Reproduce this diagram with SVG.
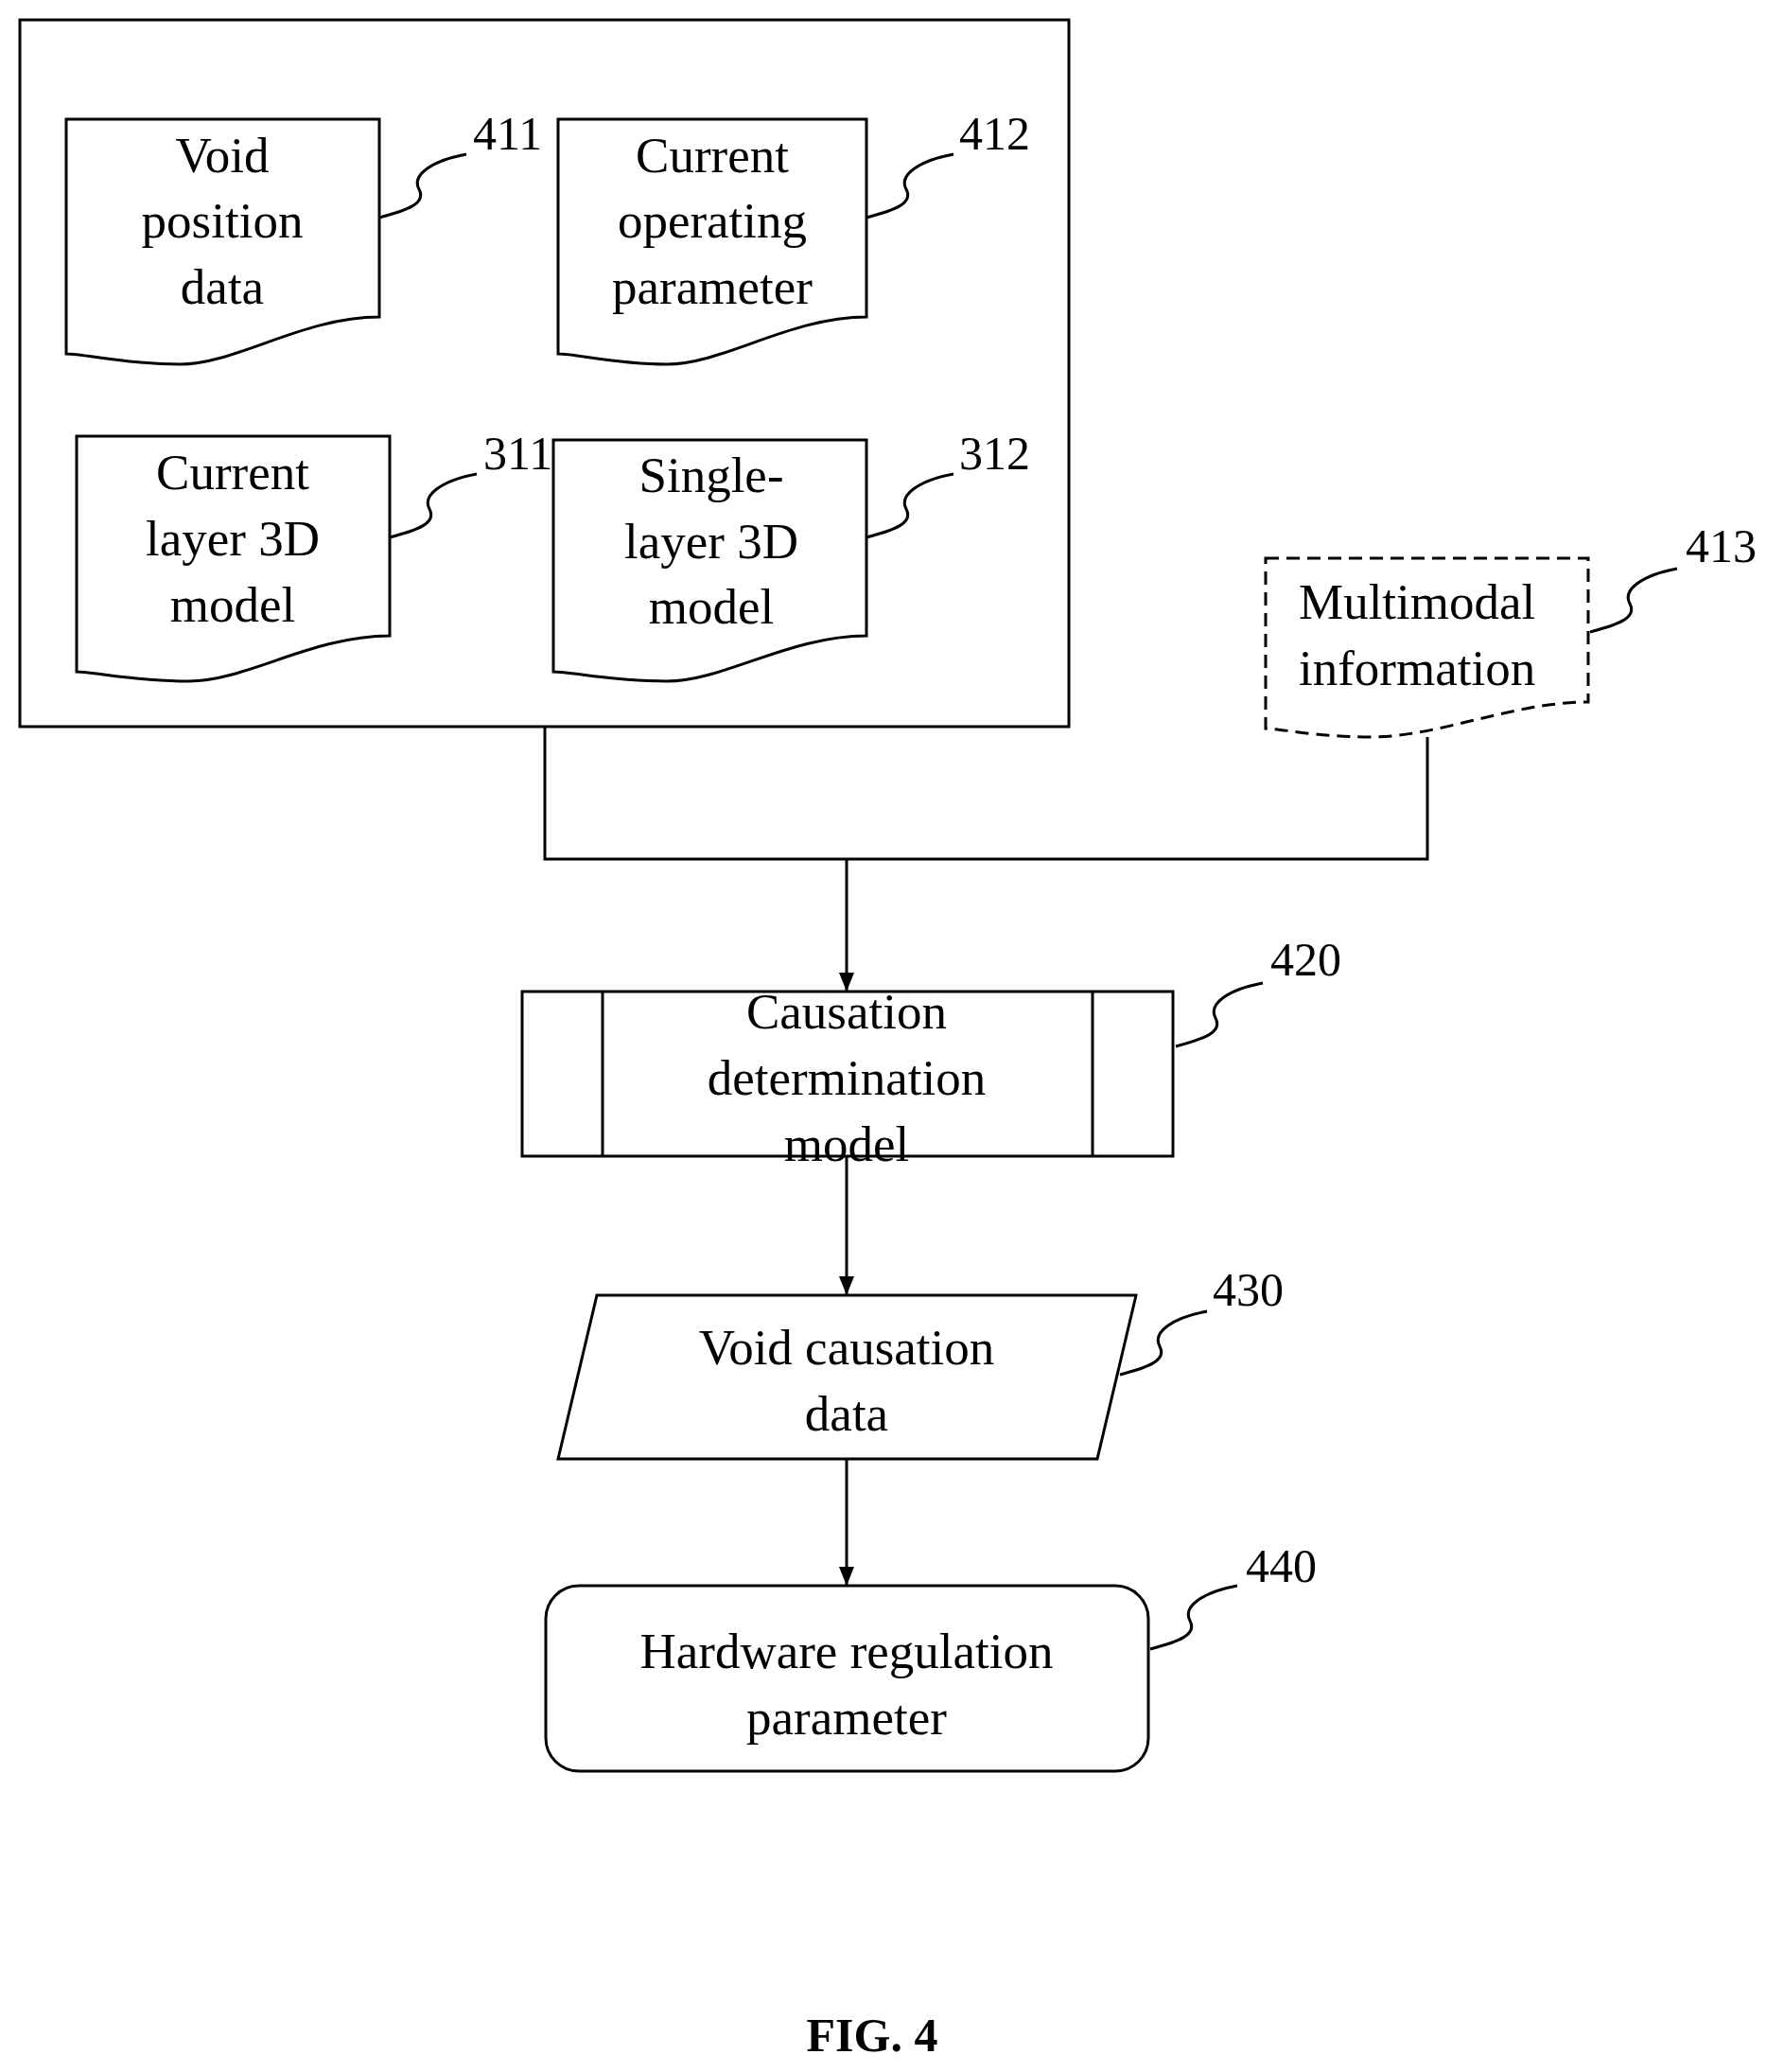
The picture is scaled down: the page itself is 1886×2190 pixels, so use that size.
<svg xmlns="http://www.w3.org/2000/svg" width="1886" height="2190" viewBox="0 0 1886 2190">
<style>
.s{fill:#fff;stroke:#000;stroke-width:3}
.l{fill:none;stroke:#000;stroke-width:3}
.t{font-family:"Liberation Serif",serif;font-size:53px;text-anchor:middle}
.n{font-family:"Liberation Serif",serif;font-size:50px}
</style>
<defs>
<marker id="a" markerWidth="10" markerHeight="10" refX="9" refY="5" orient="auto" markerUnits="userSpaceOnUse" viewBox="0 0 10 10"><path d="M0,0 L10,5 L0,10 Z"/></marker>
<marker id="ah" markerWidth="22" markerHeight="22" refX="20" refY="11" orient="auto" markerUnits="userSpaceOnUse"><path d="M0,3 L20,11 L0,19 Z"/></marker>
<path id="q" d="M0,0 C30,-8 50,-15 42,-30 C34,-45 55,-60 92,-67" fill="none" stroke="#000" stroke-width="3"/>
</defs>
<rect x="21" y="21" width="1109" height="747" class="s"/>
<g id="n411"><path class="s" d="M70,126 H401 V335 C320,335 250,385 190,385 C130,385 90,374 70,374 Z"/>
<text class="t" x="235" y="182">Void</text><text class="t" x="235" y="251">position</text><text class="t" x="235" y="321">data</text>
<use href="#q" x="401" y="230"/><text class="n" x="500" y="158">411</text></g>
<g id="n412"><path class="s" d="M590,126 H916 V335 C835,335 765,385 705,385 C650,385 610,374 590,374 Z"/>
<text class="t" x="753" y="182">Current</text><text class="t" x="753" y="251">operating</text><text class="t" x="753" y="321">parameter</text>
<use href="#q" x="916" y="230"/><text class="n" x="1014" y="158">412</text></g>
<g id="n311"><path class="s" d="M81,461 H412 V672 C330,672 260,720 200,720 C140,720 100,710 81,710 Z"/>
<text class="t" x="246" y="517">Current</text><text class="t" x="246" y="587">layer 3D</text><text class="t" x="246" y="657">model</text>
<use href="#q" x="412" y="568"/><text class="n" x="511" y="496">311</text></g>
<g id="n312"><path class="s" d="M585,465 H916 V672 C835,672 765,720 705,720 C645,720 605,710 585,710 Z"/>
<text class="t" x="752" y="520">Single-</text><text class="t" x="752" y="590">layer 3D</text><text class="t" x="752" y="659">model</text>
<use href="#q" x="916" y="568"/><text class="n" x="1014" y="496">312</text></g>
<g id="n413"><path class="s" stroke-dasharray="14,8" d="M1338,590 H1679 V742 C1600,742 1520,779 1450,779 C1390,779 1355,770 1338,770 Z"/>
<text class="n" style="font-size:53px" x="1373" y="654">Multimodal</text><text class="n" style="font-size:53px" x="1373" y="724">information</text>
<use href="#q" x="1681" y="668"/><text class="n" x="1782" y="594">413</text></g>
<g id="connectors">
<path class="l" d="M576,768 V908 H1509 V779"/>
<path class="l" d="M895,908 V1048" marker-end="url(#ah)"/>
<path class="l" d="M895,1222 V1369" marker-end="url(#ah)"/>
<path class="l" d="M895,1542 V1676" marker-end="url(#ah)"/>
</g>
<g id="n420"><rect class="s" x="552" y="1048" width="688" height="174"/><path class="l" d="M637,1048 V1222 M1155,1048 V1222"/>
<text class="t" x="895" y="1087">Causation</text><text class="t" x="895" y="1157">determination</text><text class="t" x="895" y="1227">model</text>
<use href="#q" x="1243" y="1106"/><text class="n" x="1343" y="1031">420</text></g>
<g id="n430"><path class="s" d="M631,1369 H1201 L1160,1542 H590 Z"/>
<text class="t" x="895" y="1442">Void causation</text><text class="t" x="895" y="1512">data</text>
<use href="#q" x="1184" y="1453"/><text class="n" x="1282" y="1380">430</text></g>
<g id="n440"><rect class="s" x="577" y="1676" width="637" height="196" rx="35"/>
<text class="t" x="895" y="1763">Hardware regulation</text><text class="t" x="895" y="1833">parameter</text>
<use href="#q" x="1216" y="1743"/><text class="n" x="1317" y="1672">440</text></g>
<text x="922" y="2168" style="font-family:'Liberation Serif',serif;font-size:50px;font-weight:bold;text-anchor:middle">FIG.  4</text>
</svg>
